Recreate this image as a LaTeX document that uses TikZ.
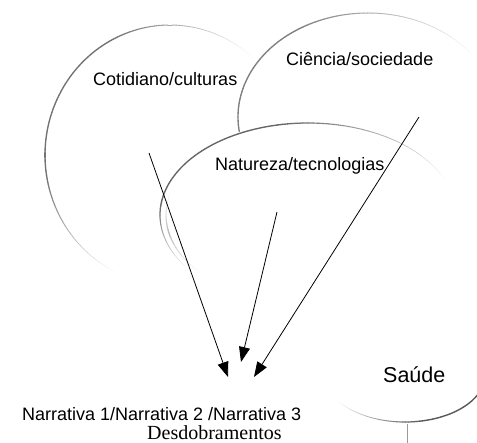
\documentclass[tikz,border=0pt]{standalone}
\usepackage{fontspec}
\setmainfont{Liberation Sans}
\newfontfamily\serifone{Liberation Serif}
\usetikzlibrary{arrows.meta}
\newcommand\myfade[9]{%
  \pgfmathsetmacro\myN{int(abs(#6-#5)/2)}%
  \pgfmathsetmacro\mySt{(#6-#5)/\myN}%
  \foreach \k in {1,...,\myN}{%
    \pgfmathsetmacro\ta{#5+\mySt*(\k-1)}%
    \pgfmathsetmacro\tb{#5+\mySt*\k}%
    \pgfmathsetmacro\tm{(\ta+\tb)/2}%
    \pgfmathsetmacro\ww{min(1,abs(\tm-#5)/#7,abs(#6-\tm)/#8)}%
    \pgfmathsetmacro\II{#9*\ww}%
    \pgfmathsetmacro\LW{0.35+1.0*\ww}%
    \draw[line width=\LW pt, color=black!\II, line cap=round]
      ({#1+#3*cos(\ta)},{#2-#4*sin(\ta)}) -- ({#1+#3*cos(\tb)},{#2-#4*sin(\tb)});
  }}
\tikzset{
  lbl/.style={inner sep=0pt, anchor=base west, font=\fontsize{18}{21}\selectfont},
  arr/.style={line width=0.8pt, -{Triangle[length=15pt,width=11pt]}},
}
\begin{document}
\begin{tikzpicture}[x=1pt,y=-1pt]
\useasboundingbox (0,0) rectangle (477,443);
% Cotidiano/culturas ellipse
\myfade{170}{155}{125}{130}{47}{245}{70}{55}{55}
% Ciencia/sociedade ellipse
\myfade{368}{117}{130}{104}{32}{188}{90}{0.1}{50}
% Natureza/tecnologias ellipse
\myfade{308}{215}{148}{92}{20}{218}{80}{45}{60}
\myfade{312}{215}{146}{90}{165}{222}{25}{30}{25}
% Saude ellipse
\myfade{405}{375}{80}{47}{212}{375}{70}{25}{65}
\draw[black!40, line width=0.6pt] (407,424) coordinate (vl1) -- (407,443) coordinate (vl2);
% labels
\node[lbl] (cot) at (93,86) {Cotidiano/culturas};
\node[lbl] (cie) at (286,66) {Ciência/sociedade};
\node[lbl] (nat) at (215,171) {Natureza/tecnologias};
\node[lbl, font=\fontsize{21.5}{25}\selectfont] (sau) at (383,383) {Saúde};
\node[lbl] (nar) at (22,421) {Narrativa 1/Narrativa 2 /Narrativa 3};
\node[lbl, font=\serifone\fontsize{20}{24}\selectfont] (des) at (147,440) {Desdobramentos};
% arrows
\coordinate (a1s) at (149,153);
\coordinate (a1e) at (228,377);
\coordinate (a2s) at (277,212);
\coordinate (a2e) at (241,362);
\coordinate (a3s) at (419,117);
\coordinate (a3e) at (254,377);
\draw[arr] (a1s) -- (a1e);
\draw[arr] (a2s) -- (a2e);
\draw[arr] (a3s) -- (a3e);
\end{tikzpicture}
\end{document}
